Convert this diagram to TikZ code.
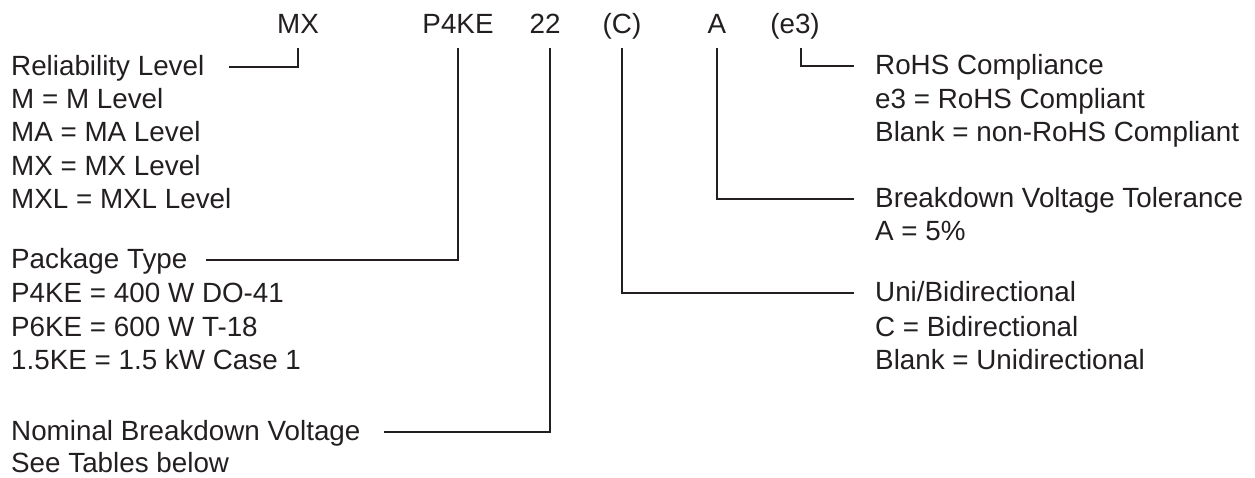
\documentclass[tikz,border=0pt]{standalone}
\usepackage{fontspec}
\setmainfont{Liberation Sans}
\usetikzlibrary{positioning}
\definecolor{ink}{RGB}{35,31,32}

\begin{document}
\begin{tikzpicture}[x=1pt,y=-1pt,
  every node/.style={inner sep=0pt, text=ink, font=\fontsize{27.8}{33.5}\selectfont},
  code/.style={anchor=base},
  title/.style={anchor=base west},
  opts/.style={anchor=north west, align=left},
  lead/.style={draw=ink, line width=1.8pt}]
\useasboundingbox (0,0) rectangle (1255,477);

% part number
\node[code] (mx) at (298,33) {MX};
\node[code] (p4ke) at (458,33) {P4KE};
\node[code] (volt) at (545,33) {22};
\node[code] (cdir) at (622,33) {(C)};
\node[code] (atol) at (717,33) {A};
\node[code] (e3) at (795,33) {(e3)};

% left side fields
\node[title] (rel) at (11,75) {Reliability Level};
\node[opts] (relopt) at (11,88) {M = M Level\\MA = MA Level\\MX = MX Level\\MXL = MXL Level};
\node[title] (pkg) at (11,268) {Package Type};
\node[opts] (pkgopt) at (11,283) {P4KE = 400 W DO-41\\P6KE = 600 W T-18\\1.5KE = 1.5 kW Case 1};
\node[title] (nom) at (11,440) {Nominal Breakdown Voltage};
\node[opts] (nomopt) at (11,452) {See Tables below};

% right side fields
\node[title] (rohs) at (875,74) {RoHS Compliance};
\node[opts] (rohsopt) at (875,88) {e3 = RoHS Compliant\\Blank = non-RoHS Compliant};
\node[title] (tol) at (875,207) {Breakdown Voltage Tolerance};
\node[opts] (tolopt) at (875,221) {A = 5\%};
\node[title] (dir) at (875,301) {Uni/Bidirectional};
\node[opts] (diropt) at (875,316) {C = Bidirectional\\Blank = Unidirectional};

% leaders
\draw[lead] ([yshift=-15pt]mx.base) |- ([xshift=24pt,yshift=8pt]rel.base east);
\draw[lead] ([yshift=-15pt]p4ke.base) |- ([xshift=18pt,yshift=8pt]pkg.base east);
\draw[lead] ([xshift=5pt,yshift=-15pt]volt.base) |- ([xshift=23pt,yshift=8pt]nom.base east);
\draw[lead] ([yshift=-15pt]cdir.base) |- ([xshift=-21pt,yshift=8pt]dir.base west);
\draw[lead] ([yshift=-15pt]atol.base) |- ([xshift=-21pt,yshift=8pt]tol.base west);
\draw[lead] ([xshift=6pt,yshift=-15pt]e3.base) |- ([xshift=-21pt,yshift=8pt]rohs.base west);
\end{tikzpicture}
\end{document}
